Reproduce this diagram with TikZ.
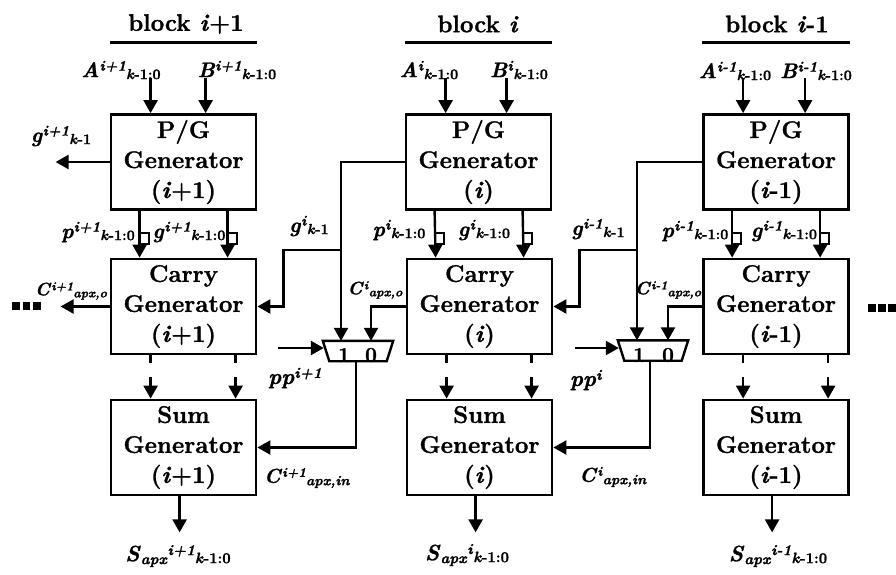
\documentclass[tikz,border=0pt]{standalone}
\usepackage{fontspec}
\setmainfont{Latin Modern Roman}[
  BoldFeatures={FakeBold=1.2},
  BoldItalicFeatures={FakeBold=1.2}]
\usetikzlibrary{arrows.meta}
% bold italic shorthand and explicit font size
\newcommand{\bi}[1]{\textbf{\textit{#1}}}
\newcommand{\fs}[1]{\fontsize{#1}{#1}\selectfont}
% signal name: base letter, superscript, then subscript placed after it
\newcommand{\sig}[3]{\bi{#1}\raisebox{6.5pt}{\fs{14.5}\bi{#2}}\raisebox{-2pt}{\fs{14.5}\textbf{#3}}}
% carry signal names (smaller)
\newcommand{\csig}[3]{{\fs{18}\bi{#1}}\raisebox{5pt}{\fs{12}\bi{#2}}\raisebox{-2pt}{\fs{12.5}\bi{#3}}}
\newcommand{\cinsig}[3]{{\fs{20}\bi{#1}}\raisebox{6pt}{\fs{13}\bi{#2}}\raisebox{-2.5pt}{\fs{14}\bi{#3}}}
% sum output name
\newcommand{\ssig}[1]{{\fs{22}\bi{S}}\raisebox{-3pt}{\fs{15}\bi{apx}}\raisebox{6pt}{\fs{15}\bi{#1}}\raisebox{-2pt}{\fs{15}\textbf{\textit{k}-1:0}}}
\newcommand{\kidx}{\textit{k}-1:0}
\newcommand{\kone}{\textit{k}-1}
\begin{document}
\begin{tikzpicture}[x=1pt,y=-1pt,
  box/.style={draw, line width=2.8pt, minimum width=145pt, minimum height=95pt,
    inner sep=0pt, align=center, font=\fontsize{24}{30}\selectfont\bfseries},
  wire/.style={line width=2.4pt},
  arr/.style={wire, -{Triangle[length=13pt,width=14pt]}},
  lab/.style={inner sep=0pt, font=\fs{21}},
  ttl/.style={inner sep=0pt, font=\fs{24}\bfseries},
  bit/.style={inner sep=0pt, font=\fs{21}\bfseries}]
\fill[white] (0,0) rectangle (896,574);
\useasboundingbox (0,0) rectangle (896,574);

% ---------- functional blocks ----------
\node[box] (pg1) at (183.5,162)   {P/G\\Generator\\(\textit{i}+1)};
\node[box] (cg1) at (183.5,306.5) {Carry\\Generator\\(\textit{i}+1)};
\node[box] (sg1) at (183.5,447.5) {Sum\\Generator\\(\textit{i}+1)};
\node[box] (pg2) at (478.5,162)   {P/G\\Generator\\(\textit{i})};
\node[box] (cg2) at (479.5,306.5) {Carry\\Generator\\(\textit{i})};
\node[box] (sg2) at (479.5,447.5) {Sum\\Generator\\(\textit{i})};
\node[box] (pg3) at (776,162)     {P/G\\Generator\\(\textit{i}-1)};
\node[box] (cg3) at (776,306.5)   {Carry\\Generator\\(\textit{i}-1)};
\node[box] (sg3) at (776,447.5)   {Sum\\Generator\\(\textit{i}-1)};

% ---------- block titles ----------
\node[ttl] (t1) at (186,24) {block \textit{i}+1};
\node[ttl] (t2) at (478,24) {block \textit{i}};
\node[ttl] (t3) at (777,24) {block \textit{i}-1};

% ---------- per-block wiring ----------
\foreach \n/\bx in {1/96,2/102,3/103}{
  \draw[line width=2.8pt] ([yshift=71pt]pg\n.north west) -- ([yshift=71pt]pg\n.north east);
  \draw[arr] ([xshift=41pt,yshift=35pt]pg\n.north west) -- ([xshift=41pt]pg\n.north west);
  \draw[arr] ([xshift=\bx pt,yshift=35pt]pg\n.north west) -- ([xshift=\bx pt]pg\n.north west);
  % p and g buses with width marks
  \draw[arr] ([xshift=30pt]pg\n.south west) -- ([xshift=30pt]cg\n.north west);
  \draw[arr] ([xshift=118pt]pg\n.south west) -- ([xshift=118pt]cg\n.north west);
  \draw[line width=2pt] ([xshift=30pt,yshift=-22pt]pg\n.south west) -- ++(9,0) -- ++(0,11) -- ++(-9,0);
  \draw[line width=2pt] ([xshift=118pt,yshift=-22pt]pg\n.south west) -- ++(9,0) -- ++(0,11) -- ++(-9,0);
  % carry to sum (broken connection)
  \draw[wire] ([xshift=41pt]cg\n.south west) -- ++(0,8);
  \draw[wire] ([xshift=126pt]cg\n.south west) -- ++(0,8);
  \draw[arr] ([xshift=41pt,yshift=-22pt]cg\n.south west) -- ([xshift=41pt]sg\n.north west);
  \draw[arr] ([xshift=126pt,yshift=-22pt]cg\n.south west) -- ([xshift=126pt]sg\n.north west);
  % sum output
  \draw[arr] ([xshift=70pt]sg\n.south west) -- ++(0,36);
}

% ---------- multiplexers ----------
\node[minimum width=70pt, minimum height=20pt, inner sep=0pt] (mux1) at (358,351) {};
\node[minimum width=70pt, minimum height=20pt, inner sep=0pt] (mux2) at (653,350.5) {};
\foreach \m in {1,2}{
  \draw[wire] (mux\m.north west) -- (mux\m.north east) -- ([xshift=-6.5pt]mux\m.south east)
    -- ([xshift=6.5pt]mux\m.south west) -- cycle;
}
\node[bit] (one1)  at (344,355) {1};
\node[bit] (zero1) at (371,355) {0};
\node[bit] (one2)  at (639,355) {1};
\node[bit] (zero2) at (668,355) {0};

\coordinate (m1a) at ([xshift=-17pt]mux1.north);
\coordinate (m1b) at ([xshift=13pt]mux1.north);
\coordinate (m1o) at ([xshift=-2pt]mux1.south);
\coordinate (m2a) at ([xshift=-16pt]mux2.north);
\coordinate (m2b) at ([xshift=15pt]mux2.north);
\coordinate (m2o) at ([xshift=-3pt]mux2.south);

% g_{k-1} of block i and i-1 into the mux "1" input, branching to the carry of the next block
\draw[arr] (pg2.west) -| (m1a);
\draw[arr] (m1a |- 0,250) -| ([xshift=26pt]cg1.east) -- (cg1.east);
\draw[arr] (pg3.west) -| (m2a);
\draw[arr] (m2a |- 0,250) -| ([xshift=26pt]cg2.east) -- (cg2.east);
% approximate carry into the mux "0" input
\draw[arr] (cg2.west) -| (m1b);
\draw[arr] (cg3.west) -| (m2b);
% mux output to the sum generator of the next block
\draw[arr] (m1o) |- (sg1.east);
\draw[arr] (m2o) |- (sg2.east);
% pp select lines
\coordinate (pps1) at (278,348);
\coordinate (pps2) at (575,348);
\draw[arr] (pps1) -- ([xshift=1pt]pps1 -| mux1.west);
\draw[arr] (pps2) -- ([xshift=1pt]pps2 -| mux2.west);

% outputs at the left end
\draw[arr] (pg1.west) -- ++(-54,0);
\draw[arr] (cg1.west) -- ++(-49,0);

% continuation dots
\foreach \x in {12,22.5,33}{\fill (\x,301.5) rectangle ++(7.5,8);}
\foreach \x in {868,878,888}{\fill (\x,304) rectangle ++(7.5,8);}

% ---------- signal labels ----------
\node[lab] (A1) at (121,70) {\sig{A}{i+1}{\kidx}};
\node[lab] (B1) at (237,70) {\sig{B}{i+1}{\kidx}};
\node[lab] (A2) at (429,70) {\sig{A}{i}{\kidx}};
\node[lab] (B2) at (519,70) {\sig{B}{i}{\kidx}};
\node[lab] (A3) at (735,71) {\sig{A}{i-1}{\kidx}};
\node[lab] (B3) at (816,71) {\sig{B}{i-1}{\kidx}};

\node[lab] (g1)  at (61,136)  {\sig{g}{i+1}{\kone}};
\node[lab] (gk2) at (309,226) {\sig{g}{i}{\kone}};
\node[lab] (gk3) at (598,229) {\sig{g}{i-1}{\kone}};

\node[lab] (p1)  at (98,232)  {\sig{p}{i+1}{\kidx}};
\node[lab] (gg1) at (189,232) {\sig{g}{i+1}{\kidx}};
\node[lab] (p2)  at (399,230) {\sig{p}{i}{\kidx}};
\node[lab] (gg2) at (484,230) {\sig{g}{i}{\kidx}};
\node[lab] (p3)  at (695,231) {\sig{p}{i-1}{\kidx}};
\node[lab] (gg3) at (784,231) {\sig{g}{i-1}{\kidx}};

\node[lab] (co1) at (71,291)  {\csig{C}{i+1}{apx,o}};
\node[lab] (co2) at (375,290) {\csig{C}{i}{apx,o}};
\node[lab] (co3) at (668,290) {\csig{C}{i-1}{apx,o}};

\node[lab] (ci1) at (307,478) {\cinsig{C}{i+1}{apx,in}};
\node[lab] (ci2) at (613,477) {\cinsig{C}{i}{apx,in}};

\node[lab, font=\fs{22}] (pp1) at (295,378) {\bi{pp}\raisebox{6pt}{\fs{15}\bi{i+1}}};
\node[lab, font=\fs{22}] (pp2) at (586,380) {\bi{pp}\raisebox{6pt}{\fs{15}\bi{i}}};

\node[lab] (s1) at (178,556) {\ssig{i+1}};
\node[lab] (s2) at (467,555) {\ssig{i}};
\node[lab] (s3) at (778,556) {\ssig{i-1}};
\end{tikzpicture}
\end{document}
